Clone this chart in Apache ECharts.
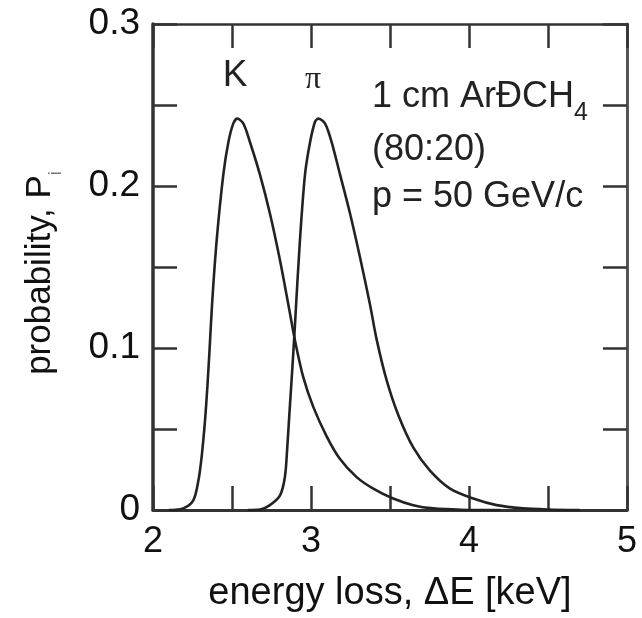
<!DOCTYPE html>
<html>
<head>
<meta charset="utf-8">
<script src="https://cdn.jsdelivr.net/npm/echarts@6/dist/echarts.min.js"></script>
<style>html,body{margin:0;padding:0;background:#fff}#c{width:642px;height:618px}</style>
</head>
<body>
<div id="c"></div>
<script>
// Energy loss (keV) and probability for kaons (K)
const kEnergy = [2.10, 2.19, 2.255, 2.287, 2.308, 2.329, 2.344, 2.358, 2.375, 2.403, 2.445, 2.477, 2.508, 2.534, 2.572, 2.614, 2.677, 2.74, 2.804, 2.86, 2.90, 2.951, 3.015, 3.099, 3.18, 3.289, 3.394, 3.52, 3.647, 3.774, 3.95, 4.2];
const kProb   = [0, 0.001, 0.006, 0.018, 0.033, 0.055, 0.076, 0.099, 0.129, 0.1665, 0.207, 0.227, 0.2385, 0.2416, 0.2385, 0.227, 0.207, 0.183, 0.154, 0.125, 0.104, 0.082, 0.0635, 0.0455, 0.032, 0.0203, 0.0132, 0.0071, 0.003, 0.001, 0.0002, 0];
// Energy loss (keV) and probability for pions (π)
const piEnergy = [2.60, 2.677, 2.74, 2.804, 2.835, 2.85, 2.863, 2.871, 2.888, 2.90, 2.93, 2.962, 2.994, 3.025, 3.046, 3.089, 3.131, 3.184, 3.247, 3.31, 3.373, 3.416, 3.479, 3.553, 3.647, 3.753, 3.88, 4.027, 4.175, 4.34, 4.5, 4.7];
const piProb   = [0, 0.0003, 0.003, 0.009, 0.0205, 0.039, 0.059, 0.071, 0.097, 0.117, 0.1665, 0.207, 0.227, 0.2395, 0.2416, 0.2385, 0.227, 0.207, 0.183, 0.156, 0.127, 0.105, 0.080, 0.0585, 0.0386, 0.0243, 0.0132, 0.0071, 0.003, 0.001, 0.0003, 0];

const xLabels = ['2', '3', '4', '5'];
const yLabels = ['0', '0.1', '0.2', '0.3'];
const xTitle = 'energy loss, ΔE [keV]';
const yTitleMain = 'probability, P';
const yTitleSub = 'i';
const peakLabels = ['K', 'π'];
const infoLines = ['1 cm ArÐCH', '4', '(80:20)', 'p = 50 GeV/c'];

const F = '"Liberation Sans", Arial, Helvetica, sans-serif';
const INK = '#222';
const AX = '#333';

function xFmt(v) {
  const r = Math.round(v * 10);
  if (r % 10 !== 0) return '';
  const s = String(r / 10);
  return xLabels.indexOf(s) >= 0 ? s : '';
}
function yFmt(v) {
  const r = Math.round(v * 100);
  if (r % 10 !== 0) return '';
  const s = r === 0 ? '0' : String(r / 100);
  return yLabels.indexOf(s) >= 0 ? s : '';
}

const tickStyle = { inside: true, length: 24, lineStyle: { color: AX, width: 2.5 } };

const chart = echarts.init(document.getElementById('c'), null, { renderer: 'canvas' });
chart.setOption({
  backgroundColor: '#fff',
  animation: false,
  grid: { left: 153, right: 15, top: 24, bottom: 101, containLabel: false },
  xAxis: [
    {
      type: 'value', position: 'bottom', min: 2, max: 5, interval: 0.5,
      axisLine: { show: true, onZero: false, lineStyle: { color: AX, width: 3 } },
      axisTick: tickStyle,
      splitLine: { show: false },
      axisLabel: { formatter: xFmt, fontSize: 36, fontFamily: F, color: '#111', margin: 14 },
      name: xTitle, nameLocation: 'middle', nameGap: 65,
      nameTextStyle: { fontSize: 38, fontFamily: F, color: '#111' }
    },
    {
      type: 'value', position: 'top', min: 2, max: 5, interval: 0.5,
      axisLine: { show: true, onZero: false, lineStyle: { color: AX, width: 2.5 } },
      axisTick: tickStyle,
      splitLine: { show: false },
      axisLabel: { show: false }
    }
  ],
  yAxis: [
    {
      type: 'value', position: 'left', min: 0, max: 0.3, interval: 0.05,
      axisLine: { show: true, onZero: false, lineStyle: { color: AX, width: 3.5 } },
      axisTick: tickStyle,
      splitLine: { show: false },
      axisLabel: { formatter: yFmt, fontSize: 37, fontFamily: F, color: '#111', margin: 13 },
      name: '{m|' + yTitleMain + '}{s|' + yTitleSub + '}',
      nameLocation: 'middle', nameGap: 88,
      nameTextStyle: {
        fontFamily: F, color: '#111', padding: [0, 12, 0, 0],
        rich: {
          m: { fontSize: 35, fontFamily: F, color: '#111' },
          s: { fontSize: 18, fontFamily: F, color: '#777', lineHeight: 50, verticalAlign: 'bottom' }
        }
      }
    },
    {
      type: 'value', position: 'right', min: 0, max: 0.3, interval: 0.05,
      axisLine: { show: true, onZero: false, lineStyle: { color: '#555', width: 3 } },
      axisTick: tickStyle,
      splitLine: { show: false },
      axisLabel: { show: false }
    }
  ],
  series: [
    {
      name: 'K', type: 'line', xAxisIndex: 0, yAxisIndex: 0,
      data: kEnergy.map((e, i) => [e, kProb[i]]),
      showSymbol: false, smooth: 0.3,
      lineStyle: { color: INK, width: 2.6 }, clip: true
    },
    {
      name: 'π', type: 'line', xAxisIndex: 0, yAxisIndex: 0,
      data: piEnergy.map((e, i) => [e, piProb[i]]),
      showSymbol: false, smooth: 0.3,
      lineStyle: { color: INK, width: 2.6 }, clip: true
    }
  ],
  graphic: [
    { type: 'text', z: 100, style: { x: 235, y: 76, text: peakLabels[0], fontSize: 37, fontFamily: F, fill: INK, align: 'center', verticalAlign: 'middle', textAlign: 'center', textVerticalAlign: 'middle' } },
    { type: 'text', z: 100, style: { x: 313, y: 80, text: peakLabels[1], fontSize: 32, fontFamily: '"Liberation Serif", "DejaVu Serif", serif', fill: INK, align: 'center', verticalAlign: 'middle', textAlign: 'center', textVerticalAlign: 'middle' } },
    { type: 'text', z: 100, style: {
        x: 372, y: 97, text: '{m|' + infoLines[0] + '}{s|' + infoLines[1] + '}',
        align: 'left', verticalAlign: 'middle', textAlign: 'left', textVerticalAlign: 'middle',
        fontSize: 36, fontFamily: F, fill: INK,
        rich: {
          m: { fontSize: 36, fontFamily: F, fill: INK, color: INK },
          s: { fontSize: 25, fontFamily: F, fill: INK, color: INK, lineHeight: 58, verticalAlign: 'bottom' }
        }
      } },
    { type: 'text', z: 100, style: { x: 372, y: 150, text: infoLines[2], fontSize: 36, fontFamily: F, fill: INK, align: 'left', verticalAlign: 'middle', textAlign: 'left', textVerticalAlign: 'middle' } },
    { type: 'text', z: 100, style: { x: 372, y: 197, text: infoLines[3], fontSize: 36, fontFamily: F, fill: INK, align: 'left', verticalAlign: 'middle', textAlign: 'left', textVerticalAlign: 'middle' } }
  ]
});
</script>
</body>
</html>
